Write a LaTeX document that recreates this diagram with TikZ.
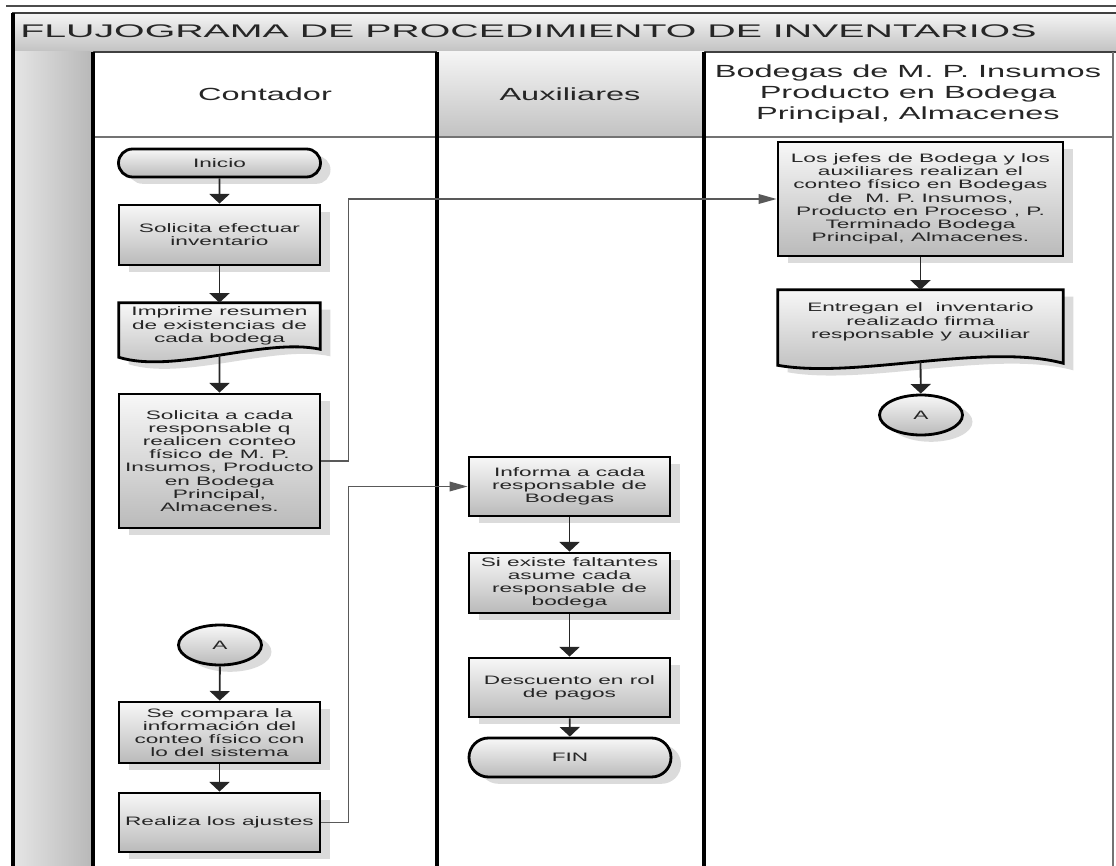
\documentclass[tikz,border=0pt]{standalone}
\usepackage{fontspec}
\setmainfont{Liberation Sans}
\newfontfamily\widefont[FakeStretch=1.85]{Liberation Sans}
\newfontfamily\bannerfont[FakeStretch=2.15]{Liberation Sans}
\usetikzlibrary{arrows.meta,shapes.misc,shapes.geometric,shadows,calc}

\pgfdeclarelayer{lanes}
\pgfdeclarelayer{docs}
\pgfsetlayers{lanes,docs,main}

\tikzset{
  boxsize/.style 2 args={minimum width={#1*0.025cm}, minimum height={#2*0.025cm}},
  txt/.style={font={\widefont\fontsize{8.7}{9.4}\selectfont}, text=black!85, align=center, inner sep=0pt},
  proc/.style={txt, rectangle, draw=black, line width=2pt, top color=black!3, bottom color=black!27,
    drop shadow={shadow xshift=0.25cm, shadow yshift=-0.17cm, fill=black!14, opacity=1}},
  term/.style={proc, rounded rectangle},
  conn/.style={proc, ellipse},
  doc/.style={txt, rectangle},
  docline/.style={draw=black, line width=2pt, top color=black!3, bottom color=black!27},
  flow/.style={black!85, line width=1.3pt, -{Triangle[width=0.5cm, length=0.24cm]}},
  link/.style={black!65, line width=1.1pt, -{Triangle[width=0.24cm, length=0.45cm]}},
  lane/.style={line width=2.8pt},
  head/.style={font={\widefont\fontsize{12.5}{14.9}\selectfont}, text=black!85, align=center},
  banner/.style={font={\bannerfont\fontsize{13}{14}\selectfont}, text=black!85, inner sep=0pt}
}

% document symbol: wavy bottom drawn under the text node
\newcommand{\docwave}[3]{%
  \begin{pgfonlayer}{docs}
    \fill[black!14, transform canvas={shift={(10,7)}}] (#1.north west) -- (#1.north east)
      -- ($(#1.south east)+(0,#2)$)
      .. controls ($(#1.south)!.45!(#1.south east)+(0,-12)$) and ($(#1.south)!.45!(#1.south west)+(0,25)$)
      .. ($(#1.south west)+(0,#3)$) -- cycle;
    \path[docline] (#1.north west) -- (#1.north east)
      -- ($(#1.south east)+(0,#2)$)
      .. controls ($(#1.south)!.45!(#1.south east)+(0,-12)$) and ($(#1.south)!.45!(#1.south west)+(0,25)$)
      .. ($(#1.south west)+(0,#3)$) coordinate[pos=.5] (#1-w) -- cycle;
  \end{pgfonlayer}}

\begin{document}
\begin{tikzpicture}[x=0.025cm, y=-0.025cm]
\useasboundingbox (0,0) rectangle (1116,866);

% swimlanes
\begin{pgfonlayer}{lanes}
  \draw[black!70, line width=1pt] (6,6) -- (1116,6);
  \draw[black!75, line width=1.2pt, top color=black!4, bottom color=black!24] (13,13) rectangle (1125,52);
  \shade[left color=black!10, right color=black!28] (13,52) rectangle (93,870);
  \shade[top color=black!4, bottom color=black!24] (437,52) rectangle (704,137);
  \draw[black!55, line width=1.6pt] (93,137) -- (1113,137);
  \draw[lane] (13,13) -- (13,870);
  \foreach \x in {93,437,704}
    \draw[lane] (\x,52) -- (\x,870);
  \draw[black!55, line width=0.8pt] (1113,52) -- (1113,870);
\end{pgfonlayer}

\node[banner, anchor=west] (banner) at (20,31) {FLUJOGRAMA DE PROCEDIMIENTO DE INVENTARIOS};

\node[head] (contador) at (265,94) {Contador};
\node[head] (auxiliares) at (570,94) {Auxiliares};
\node[head] (bodegas) at (908,94) {Bodegas de M. P. Insumos\\Producto en Bodega\\Principal, Almacenes};

% Contador
\node[term, boxsize={202}{28}] (inicio) at (219.5,163) {Inicio};
\node[proc, boxsize={201}{60}] (solicita) at (219.5,235) {Solicita efectuar\\inventario};
\node[doc, boxsize={201}{46}] (resumen) at (219.5,326) {Imprime resumen\\de existencias de\\cada bodega};
\node[proc, boxsize={201}{134}] (pedido) at (219.5,461) {Solicita a cada\\responsable q\\realicen conteo\\físico de M. P.\\Insumos, Producto\\en Bodega\\Principal,\\Almacenes.};
\node[conn, boxsize={83}{40}] (conA) at (220,645) {A};
\node[proc, boxsize={201}{61}] (compara) at (219.5,732.5) {Se compara la\\información del\\conteo físico con\\lo del sistema};
\node[proc, boxsize={201}{59}] (ajustes) at (219.5,822.5) {Realiza los ajustes};

% Auxiliares
\node[proc, boxsize={201}{59}] (informa) at (569.5,486.5) {Informa a cada\\responsable de\\Bodegas};
\node[proc, boxsize={201}{60}] (faltantes) at (569.5,583) {Si existe faltantes\\asume cada\\responsable de\\bodega};
\node[proc, boxsize={201}{59}] (descuento) at (569.5,687.5) {Descuento en rol\\de pagos};
\node[term, boxsize={202}{39}] (fin) at (570,757.5) {FIN};

% Bodegas
\node[proc, boxsize={285}{114}] (conteo) at (920.5,199) {Los jefes de Bodega y los\\auxiliares realizan el\\conteo físico en Bodegas\\de\ \ M. P. Insumos,\\Producto en Proceso , P.\\Terminado Bodega\\Principal, Almacenes.};
\node[doc, boxsize={285}{64}] (entrega) at (920.5,322) {Entregan el\ \ inventario\\realizado firma\\responsable y auxiliar};
\node[conn, boxsize={83}{40}] (conB) at (921,415) {A};

\docwave{resumen}{0}{8}
\docwave{entrega}{9}{11}

% flow
\draw[flow] (inicio) -- (solicita);
\draw[flow] (solicita) -- (resumen);
\draw[flow] (resumen-w) -- (pedido);
\draw[flow] (conA) -- (compara);
\draw[flow] (compara) -- (ajustes);
\draw[flow] (informa) -- (faltantes);
\draw[flow] (faltantes) -- (descuento);
\draw[flow] (descuento) -- (fin);
\draw[flow] (conteo) -- (entrega);
\draw[flow] (entrega-w) -- (conB);

% links between lanes
\draw[link] (pedido.east) -- ++(27,0) |- (conteo.west);
\draw[link] (ajustes.east) -- ++(27,0) |- (informa.west);
\end{tikzpicture}
\end{document}
